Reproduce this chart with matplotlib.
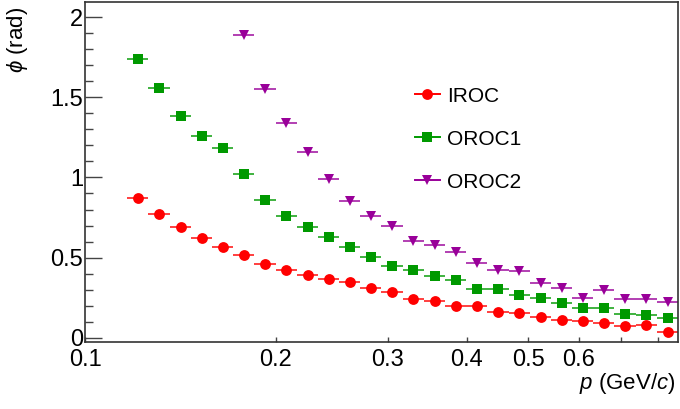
import numpy as np
import matplotlib.pyplot as plt
from matplotlib.lines import Line2D
from matplotlib.ticker import FixedLocator, FixedFormatter, MultipleLocator, NullLocator

# momentum bin edges (GeV/c), log binning between 0.1 and ~0.86
p_edges = [0.1000, 0.1080, 0.1166, 0.1259, 0.1360, 0.1469, 0.1586, 0.1713,
           0.1850, 0.1998, 0.2157, 0.2330, 0.2516, 0.2717, 0.2934, 0.3169,
           0.3422, 0.3695, 0.3991, 0.4309, 0.4654, 0.5026, 0.5427, 0.5861,
           0.6329, 0.6835, 0.7381, 0.7971, 0.8608]

# phi per bin, IROC and OROC1 filled from bin 2, OROC2 from bin 7
phi_iroc = [0.872, 0.775, 0.692, 0.625, 0.567, 0.514, 0.460, 0.421, 0.391,
            0.369, 0.347, 0.311, 0.283, 0.244, 0.229, 0.198, 0.195, 0.162,
            0.153, 0.129, 0.111, 0.106, 0.094, 0.075, 0.078, 0.033]
phi_oroc1 = [1.742, 1.560, 1.386, 1.261, 1.181, 1.019, 0.861, 0.760, 0.692,
             0.629, 0.569, 0.504, 0.450, 0.425, 0.388, 0.361, 0.304, 0.304,
             0.269, 0.250, 0.219, 0.186, 0.188, 0.150, 0.144, 0.125]
phi_oroc2 = [1.888, 1.554, 1.339, 1.158, 0.992, 0.856, 0.758, 0.694, 0.602,
             0.579, 0.536, 0.466, 0.422, 0.417, 0.344, 0.308, 0.250, 0.300,
             0.242, 0.242, 0.221]

x_ticks = [0.1, 0.2, 0.3, 0.4, 0.5, 0.6, 0.7, 0.8, 0.9]
x_labels = ['0.1', '0.2', '0.3', '0.4', '0.5', '0.6', '', '', '']
y_ticks = [0, 0.5, 1, 1.5, 2]
y_labels = ['0', '0.5', '1', '1.5', '2']

plt.rcParams['font.family'] = ['Liberation Sans', 'DejaVu Sans']
plt.rcParams['mathtext.fontset'] = 'custom'
plt.rcParams['mathtext.rm'] = 'Liberation Sans'
plt.rcParams['mathtext.it'] = 'Liberation Sans:italic'

edges = np.array(p_edges)
lo, hi = edges[:-1], edges[1:]
centers = 0.5 * (lo + hi)

fig = plt.figure(figsize=(6.8, 4.09), dpi=100)
ax = fig.add_axes([0.125, 0.1626, 0.872, 0.8325])

series = [
    ('IROC', phi_iroc, 2, '#ff0000', 'o', 7.8),
    ('OROC1', phi_oroc1, 2, '#009900', 's', 7.6),
    ('OROC2', phi_oroc2, 7, '#990099', 'v', 7.6),
]

handles = []
for name, vals, first, col, mk, ms in series:
    n = len(vals)
    c = centers[first:first + n]
    xerr = [c - lo[first:first + n], hi[first:first + n] - c]
    eb = ax.errorbar(c, vals, xerr=xerr, fmt=mk, color=col, ms=ms, mew=0,
                     ecolor=col, elinewidth=1.4, capsize=0)
    eb[2][0].set_alpha(0.75)
    handles.append(Line2D([], [], color=col, lw=1.4, marker=mk, ms=ms,
                          mew=0))

ax.set_xscale('log')
ax.set_xlim(p_edges[0], p_edges[-1])
ax.set_ylim(-0.03, 2.095)

ax.xaxis.set_major_locator(FixedLocator(x_ticks))
ax.xaxis.set_major_formatter(FixedFormatter(x_labels))
ax.xaxis.set_minor_locator(NullLocator())
ax.yaxis.set_major_locator(FixedLocator(y_ticks))
ax.yaxis.set_major_formatter(FixedFormatter(y_labels))
ax.yaxis.set_minor_locator(MultipleLocator(0.1))

ax.tick_params(axis='x', which='major', direction='in', length=3.3, width=1,
               color='#444444', labelsize=17, pad=5)
ax.tick_params(axis='y', which='major', direction='in', length=12, width=1,
               color='#444444', labelsize=17, pad=1.5)
ax.tick_params(axis='y', which='minor', direction='in', length=5.8, width=1,
               color='#444444')
for s in ax.spines.values():
    s.set_color('#333333')
    s.set_linewidth(1.2)

ax.set_xlabel(r'$p$ (GeV/$c$)', fontsize=16, loc='right')
ax.xaxis.set_label_coords(0.995, -0.085)
ax.set_ylabel(r'$\phi$ (rad)', fontsize=16, loc='top')
ax.yaxis.set_label_coords(-0.092, 0.985)

ax.legend(handles, [s[0] for s in series], loc='upper left',
          bbox_to_anchor=(0.5565, 0.751), frameon=False, fontsize=15,
          handlelength=1.2, handletextpad=0.35, labelspacing=1.15,
          borderpad=0, borderaxespad=0, numpoints=1)

fig.savefig('out.png', dpi=100)
